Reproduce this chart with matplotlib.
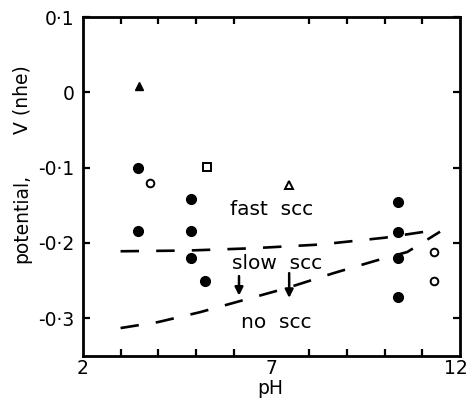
import matplotlib
matplotlib.use("Agg")
import matplotlib.pyplot as plt
from matplotlib.transforms import ScaledTranslation

# data
filled_circle_ph = [3.46, 3.46, 4.87, 4.87, 4.87, 5.24, 10.35, 10.35, 10.35, 10.35]
filled_circle_v = [-0.101, -0.184, -0.141, -0.184, -0.220, -0.251, -0.146, -0.185, -0.220, -0.272]
open_circle_ph = [3.78, 11.32, 11.32]
open_circle_v = [-0.120, -0.212, -0.251]
filled_tri_ph = [3.49]
filled_tri_v = [0.008]
open_tri_ph = [7.47]
open_tri_v = [-0.123]
open_sq_ph = [5.29]
open_sq_v = [-0.099]

upper_ph = [3.0, 4.8, 6.5, 8.3, 10.0, 11.47]
upper_v = [-0.211, -0.210, -0.207, -0.202, -0.193, -0.182]
lower_ph = [3.0, 4.0, 5.1, 6.25, 7.4, 8.65, 9.8, 10.6, 11.47]
lower_v = [-0.313, -0.305, -0.292, -0.276, -0.260, -0.240, -0.223, -0.212, -0.185]

arrow_ph = [6.14, 7.47]
arrow_top = [-0.244, -0.240]
arrow_bot = [-0.270, -0.273]

region_labels = ["fast  scc", "slow  scc", "no  scc"]
region_ph = [5.9, 5.95, 6.2]
region_v = [-0.156, -0.227, -0.305]

xticks = [2, 7, 12]
yticks = [0.1, 0, -0.1, -0.2, -0.3]
ytick_labels = ["0·1", "0", "-0·1", "-0·2", "-0·3"]

fig = plt.figure(figsize=(4.68, 3.99), dpi=100)
ax = fig.add_axes([0.177, 0.108, 0.806, 0.849])

ax.plot(upper_ph, upper_v, color="black", lw=1.9, dashes=(7, 6.5))
ax.plot(lower_ph, lower_v, color="black", lw=1.9, dashes=(7, 6.5))

ax.plot(filled_circle_ph, filled_circle_v, "o", color="black", ms=7)
ax.plot(open_circle_ph, open_circle_v, "o", mfc="white", mec="black", mew=1.4, ms=5.5)
ax.plot(filled_tri_ph, filled_tri_v, "^", color="black", ms=6)
ax.plot(open_tri_ph, open_tri_v, "^", mfc="white", mec="black", mew=1.4, ms=5.5)
ax.plot(open_sq_ph, open_sq_v, "s", mfc="white", mec="black", mew=1.4, ms=5.5)

for x, y0, y1 in zip(arrow_ph, arrow_top, arrow_bot):
    ax.annotate("", xy=(x, y1), xytext=(x, y0),
                arrowprops=dict(arrowstyle="-|>", color="black", lw=1.8,
                                mutation_scale=12, shrinkA=0, shrinkB=0))

for t, x, y in zip(region_labels, region_ph, region_v):
    ax.text(x, y, t, ha="left", va="center", fontsize=14.5)

ax.set_xlim(2, 12)
ax.set_ylim(-0.35, 0.1)
ax.set_xticks(xticks)
ax.set_xticks(range(3, 12), minor=True)
ax.set_yticks(yticks)
ax.set_yticklabels(ytick_labels)
ax.tick_params(axis="both", which="both", direction="in", top=True, right=True,
               length=5, width=1.6, labelsize=13.5)
ax.tick_params(axis="y", which="major", pad=6)
ax.tick_params(axis="x", which="major", pad=2, length=0)
for s in ax.spines.values():
    s.set_linewidth(2)

for lab in ax.get_xticklabels():
    if lab.get_text() == "12":
        lab.set_transform(lab.get_transform() + ScaledTranslation(-4 / 100, 0, fig.dpi_scale_trans))

fig.text(0.577, 1 - 389 / 399, "pH", ha="center", va="center", fontsize=13.5)
fig.text(0.047, 1 - 100 / 399, "V (nhe)", rotation=90, ha="center", va="center", fontsize=13.5)
fig.text(0.047, 1 - 218 / 399, "potential,", rotation=90, ha="center", va="center", fontsize=13.5)

fig.savefig("out.png", dpi=100)
